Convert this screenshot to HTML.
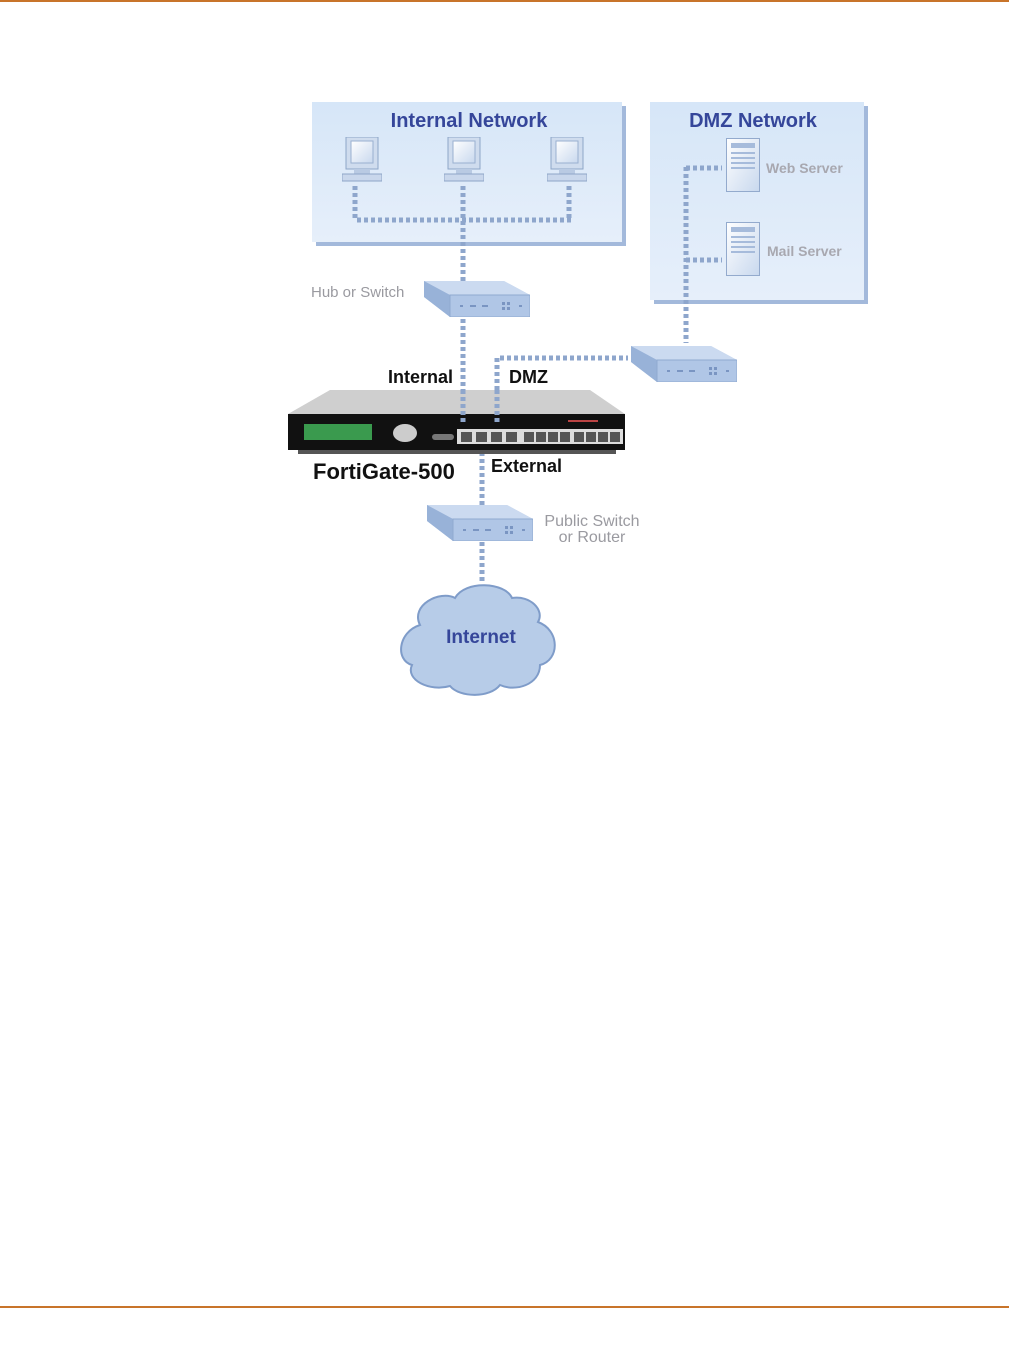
<!DOCTYPE html>
<html><head><meta charset="utf-8"><style>
body{margin:0;background:#fff;}
svg{display:block;font-family:"Liberation Sans",Arial,sans-serif;}
</style></head><body>
<svg width="1009" height="1372" viewBox="0 0 1009 1372">
<defs>
<linearGradient id="box" x1="0" y1="0" x2="0" y2="1"><stop offset="0" stop-color="#d6e6f8"/><stop offset="1" stop-color="#e6effa"/></linearGradient>
<linearGradient id="srv" x1="0" y1="0" x2="1" y2="1"><stop offset="0" stop-color="#fff"/><stop offset="1" stop-color="#c8d8ee"/></linearGradient>
<symbol id="switch" viewBox="0 0 106 36">
<polygon points="0,0 80,0 106,14 106,36 26,36 0,16" fill="#c3d4ec"/>
<polygon points="0,0 80,0 106,14 26,14" fill="#cbdaf0"/>
<polygon points="0,0 26,14 26,36 0,16" fill="#98b2d8"/>
<rect x="26" y="14" width="80" height="22" fill="#b0c6e6" stroke="#8fa9d0"/>
<g fill="#7a95c2"><rect x="36" y="24" width="3" height="2"/><rect x="46" y="24" width="6" height="2"/><rect x="58" y="24" width="6" height="2"/><rect x="78" y="21" width="3" height="3"/><rect x="83" y="21" width="3" height="3"/><rect x="78" y="26" width="3" height="3"/><rect x="83" y="26" width="3" height="3"/><rect x="95" y="24" width="3" height="2"/></g>
</symbol>
<symbol id="mon" viewBox="0 0 40 46">
<rect x="4" y="0" width="32" height="32" fill="#cfdcee" stroke="#8ea6c8"/>
<rect x="9" y="4" width="22" height="22" fill="url(#srv)" stroke="#9ab0d0"/>
<rect x="12" y="32" width="16" height="5" fill="#b9cae3"/>
<rect x="0" y="37" width="40" height="7" fill="#c9d7ec" stroke="#8ea6c8"/>
</symbol>
<symbol id="server" viewBox="0 0 34 54">
<rect x="0.5" y="0.5" width="33" height="53" fill="url(#srv)" stroke="#93aacd"/>
<g fill="#a6bbdb"><rect x="5" y="5" width="24" height="5"/><rect x="5" y="14" width="24" height="2"/><rect x="5" y="19" width="24" height="2"/><rect x="5" y="24" width="24" height="2"/><rect x="5" y="29" width="24" height="2"/></g>
</symbol>
</defs>
<rect x="0" y="0" width="1009" height="2" fill="#c8742a"/>
<rect x="0" y="1306" width="1009" height="2" fill="#c8742a"/>

<rect x="316" y="106" width="310" height="140" fill="#a3b9db"/>
<rect x="312" y="102" width="310" height="140" fill="url(#box)"/>
<rect x="654" y="106" width="214" height="198" fill="#a3b9db"/>
<rect x="650" y="102" width="214" height="198" fill="url(#box)"/>
<text x="469" y="127" text-anchor="middle" font-size="20" font-weight="bold" fill="#35469a">Internal Network</text>
<text x="753" y="127" text-anchor="middle" font-size="20" font-weight="bold" fill="#35469a">DMZ Network</text>

<g stroke="#8ea6cc" stroke-width="5" stroke-dasharray="4 3" fill="none">
<path d="M355 186V220 M463 186V425 M569 186V220 M357 220H572"/>
<path d="M686 167V343 M686 168H722 M686 260H722"/>
<path d="M497 425V358H628"/>
<path d="M482 452V505 M482 542V582"/>
</g>
<use href="#mon" x="342" y="137" width="40" height="46"/>
<use href="#mon" x="444" y="137" width="40" height="46"/>
<use href="#mon" x="547" y="137" width="40" height="46"/>
<use href="#server" x="726" y="138" width="34" height="54"/>
<use href="#server" x="726" y="222" width="34" height="54"/>
<text x="766" y="173" font-size="14" font-weight="bold" fill="#a8a8b0">Web Server</text>
<text x="767" y="256" font-size="14" font-weight="bold" fill="#a8a8b0">Mail Server</text>

<use href="#switch" x="424" y="281" width="106" height="36"/>
<use href="#switch" x="631" y="346" width="106" height="36"/>
<use href="#switch" x="427" y="505" width="106" height="36"/>
<text x="311" y="297" font-size="15" fill="#9a9aa0">Hub or Switch</text>
<text x="592" y="526" text-anchor="middle" font-size="16" fill="#9a9aa0">Public Switch</text>
<text x="592" y="542" text-anchor="middle" font-size="16" fill="#9a9aa0">or Router</text>

<polygon points="330,390 590,390 625,414 288,414" fill="#cfcfcf"/>
<rect x="288" y="414" width="337" height="36" fill="#111"/>
<rect x="298" y="450" width="318" height="4" fill="#555"/>
<rect x="304" y="424" width="68" height="16" fill="#3a9a4e"/>
<ellipse cx="405" cy="433" rx="12" ry="9" fill="#ccc"/>
<rect x="432" y="434" width="22" height="6" rx="3" fill="#777"/>
<rect x="457" y="429" width="166" height="15" fill="#ddd"/>
<g fill="#555"><rect x="461" y="432" width="11" height="10"/><rect x="476" y="432" width="11" height="10"/><rect x="491" y="432" width="11" height="10"/><rect x="506" y="432" width="11" height="10"/><rect x="524" y="432" width="10" height="10"/><rect x="536" y="432" width="10" height="10"/><rect x="548" y="432" width="10" height="10"/><rect x="560" y="432" width="10" height="10"/><rect x="574" y="432" width="10" height="10"/><rect x="586" y="432" width="10" height="10"/><rect x="598" y="432" width="10" height="10"/><rect x="610" y="432" width="10" height="10"/></g>
<rect x="568" y="420" width="30" height="2" fill="#b44"/>
<g stroke="#8ea6cc" stroke-width="5" stroke-dasharray="4 3"><path d="M463 390V425 M497 390V425"/></g>

<text x="388" y="383" font-size="18" font-weight="bold" fill="#111">Internal</text>
<text x="509" y="383" font-size="18" font-weight="bold" fill="#111">DMZ</text>
<text x="313" y="479" font-size="22" font-weight="bold" fill="#111">FortiGate-500</text>
<text x="491" y="472" font-size="18" font-weight="bold" fill="#111">External</text>

<path d="M420 625 C410 605 440 590 455 598 C465 580 505 582 512 598 C530 595 545 610 538 622 C560 630 560 660 540 665 C540 685 515 692 500 685 C490 698 460 698 450 686 C430 692 405 680 412 665 C395 660 398 632 420 625 Z" fill="#b7cce8" stroke="#7f9cc9" stroke-width="2"/>
<text x="481" y="643" text-anchor="middle" font-size="19" font-weight="bold" fill="#35469a">Internet</text>
</svg>
</body></html>
